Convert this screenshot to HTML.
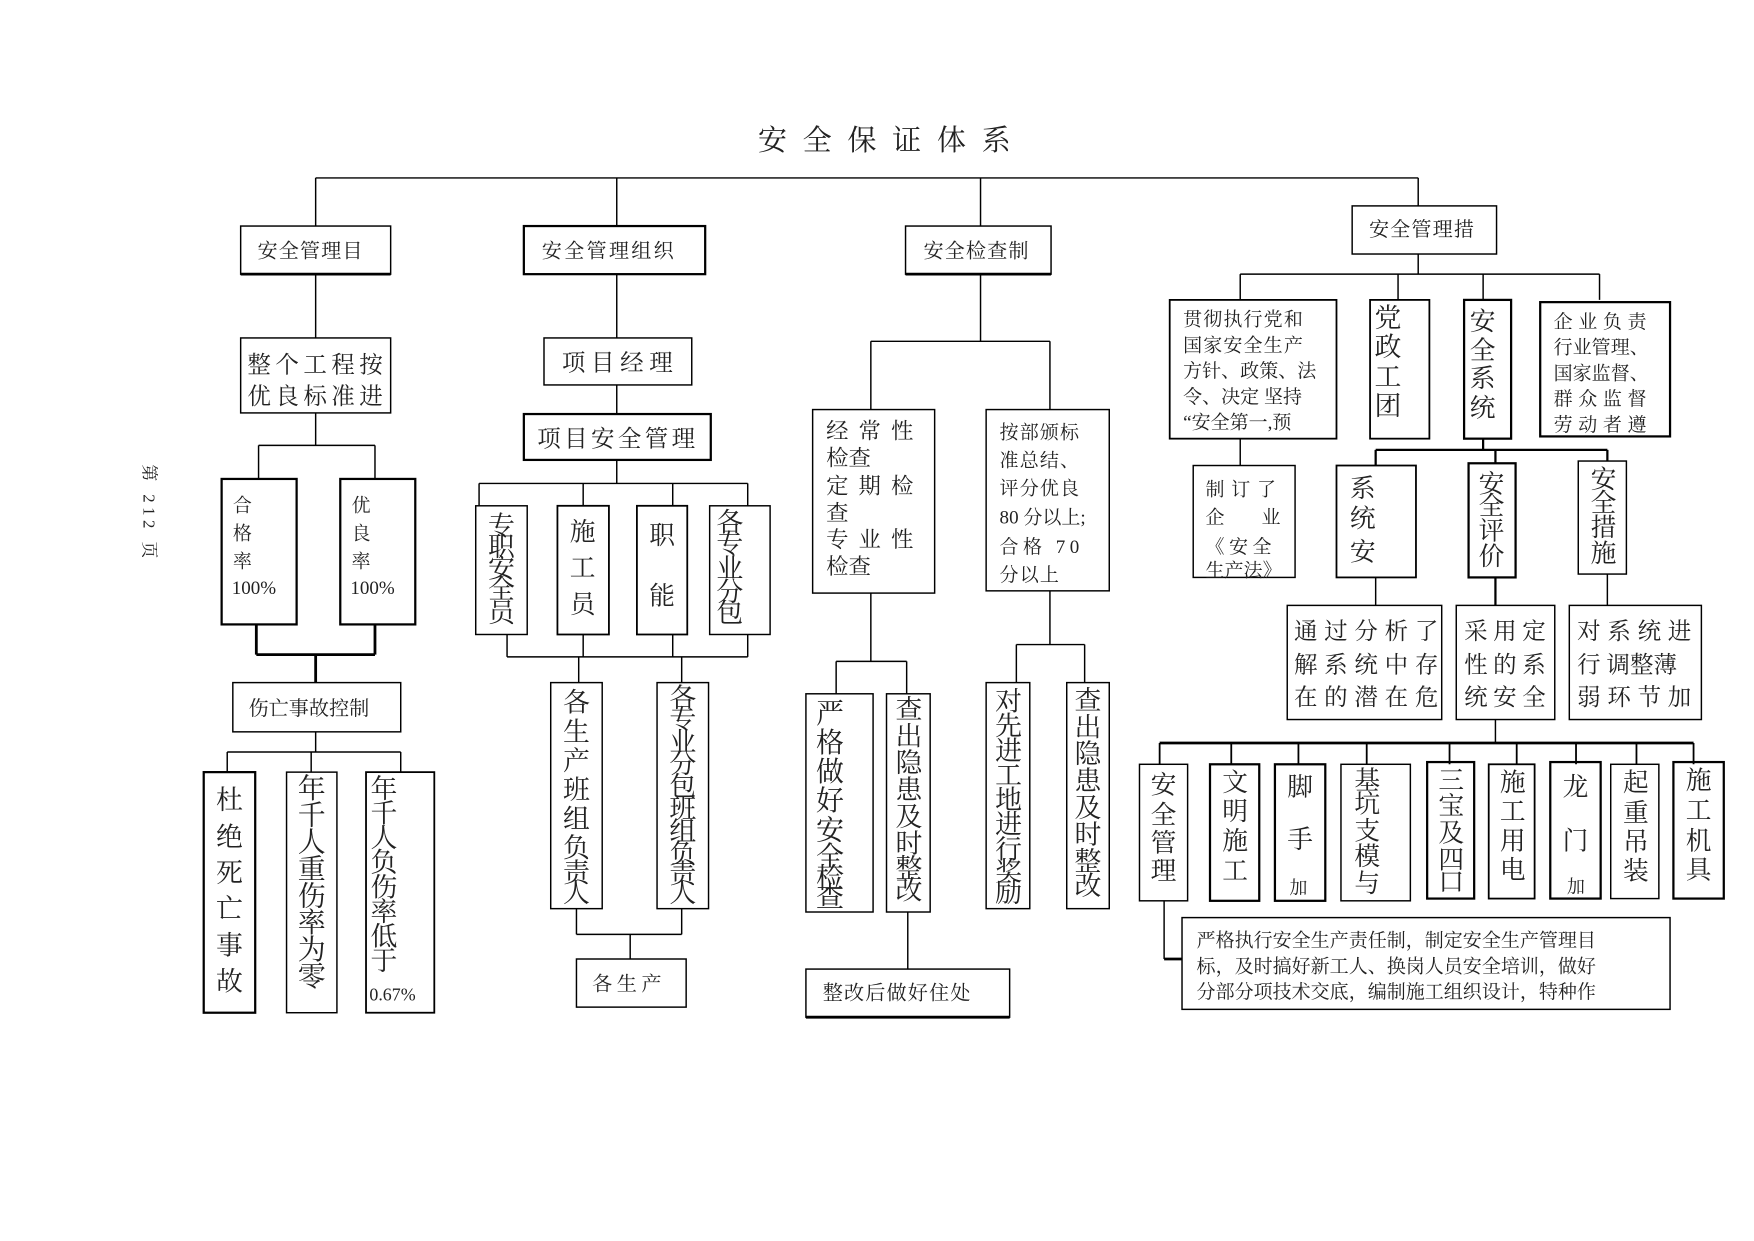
<!DOCTYPE html>
<html><head><meta charset="utf-8"><style>
html,body{margin:0;padding:0;background:#fff}
svg{display:block}
text{font-family:"Liberation Serif","Noto Serif CJK SC","Noto Sans CJK SC",serif;fill:#222}
</style></head><body>
<svg width="1754" height="1241" viewBox="0 0 1567 1109" preserveAspectRatio="none" xmlns="http://www.w3.org/2000/svg">
<g stroke="#000" fill="none" stroke-width="1.3">
<path d="M282 159H1267M282 159V202M551 159V202M876 159V202M1267 159V184"/>
<rect x="215" y="202" width="134" height="43"/><path d="M215 245H349" stroke-width="2.5"/>
<path d="M282 245V302"/>
<rect x="215" y="302" width="134" height="67"/>
<path d="M282 369V398M231 398H335M231 398V428M335 398V428"/>
<rect x="198" y="428" width="67" height="130" stroke-width="2"/>
<rect x="304" y="428" width="67" height="130" stroke-width="2"/>
<path d="M229 558V585M335 558V585M229 585H335M282 585V610" stroke-width="2.5"/>
<rect x="208" y="610" width="150" height="44"/>
<path d="M282 654V672M203 672H358M203 672V690M278 672V690M358 672V690"/>
<rect x="182" y="690" width="46" height="215" stroke-width="2"/>
<rect x="256" y="690" width="45" height="215"/>
<rect x="327" y="690" width="61" height="215" stroke-width="1.6"/>
<rect x="468" y="202" width="162" height="43" stroke-width="2"/>
<path d="M551 245V302"/>
<rect x="486" y="302" width="132" height="42"/>
<path d="M551 344V370"/>
<rect x="468" y="370" width="167" height="41" stroke-width="2"/>
<path d="M551 411V432M428 432H668M428 432V452M521 432V452M601 432V452M668 432V452"/>
<rect x="425" y="452" width="46" height="115"/>
<rect x="498" y="452" width="46" height="115" stroke-width="1.6"/>
<rect x="569" y="452" width="45" height="115" stroke-width="1.6"/>
<rect x="634" y="452" width="54" height="115"/>
<path d="M453 567V587M521 567V587M601 567V587M668 567V587M453 587H668M517 587V610M609 587V610"/>
<rect x="492" y="610" width="46" height="202"/>
<rect x="587" y="610" width="46" height="202"/>
<path d="M515 812V835M609 812V835M515 835H609M563 835V857"/>
<rect x="515" y="857" width="98" height="43"/>
<rect x="809" y="202" width="130" height="43"/><path d="M809 245H939" stroke-width="2.5"/>
<path d="M876 245V305M778 305H938M778 305V366M938 305V366"/>
<rect x="726" y="366" width="109" height="164"/>
<rect x="881" y="366" width="110" height="162"/>
<path d="M778 530V591M747 591H810M747 591V620M810 591V620"/>
<rect x="720" y="620" width="60" height="195"/>
<rect x="792" y="620" width="39" height="195"/>
<path d="M811 815V866"/>
<rect x="720" y="866" width="182" height="43"/><path d="M720 909H902" stroke-width="2.5"/>
<path d="M938 528V576M908 576H969M908 576V610M969 576V610"/>
<rect x="881" y="610" width="39" height="202"/>
<rect x="953" y="610" width="38" height="202"/>
<rect x="1208" y="184" width="129" height="43"/>
<path d="M1267 227V245M1108 245H1429M1108 245V268M1249 245V268M1325 245V268M1429 245V268"/>
<rect x="1045" y="268" width="149" height="124" stroke-width="1.6"/>
<rect x="1224" y="268" width="53" height="124" stroke-width="1.6"/>
<rect x="1308" y="268" width="42" height="124" stroke-width="2"/>
<rect x="1376" y="270" width="116" height="120" stroke-width="2"/>
<path d="M1108 392V416"/>
<rect x="1066" y="416" width="91" height="100"/>
<path d="M1325 392V402M1229 402H1436M1229 402V416M1336 402V414M1436 402V412" stroke-width="2"/>
<rect x="1194" y="416" width="71" height="100" stroke-width="1.6"/>
<rect x="1312" y="414" width="42" height="102" stroke-width="2"/>
<rect x="1410" y="412" width="43" height="101"/>
<path d="M1229 516V541M1436 513V541"/><path d="M1336 516V541" stroke-width="2"/>
<rect x="1150" y="541" width="138" height="102"/>
<rect x="1301" y="541" width="88" height="102"/>
<rect x="1402" y="541" width="118" height="102"/>
<path d="M1336 643V664"/>
<path d="M1036 664H1513" stroke-width="2.5"/>
<path d="M1036 664V683M1100 664V683M1160 664V683M1221 664V683M1295 664V683M1355 664V683M1408 664V683M1462 664V683M1513 664V683" stroke-width="1.6"/>
<rect x="1018" y="683" width="43" height="122"/>
<rect x="1081" y="683" width="44" height="122" stroke-width="2"/>
<rect x="1139" y="683" width="45" height="122" stroke-width="2"/>
<rect x="1198" y="683" width="62" height="122"/>
<rect x="1275" y="681" width="42" height="122" stroke-width="2"/>
<rect x="1330" y="683" width="41" height="120" stroke-width="1.6"/>
<rect x="1385" y="681" width="45" height="122" stroke-width="2"/>
<rect x="1439" y="683" width="43" height="120"/>
<rect x="1495" y="681" width="45" height="122" stroke-width="2"/>
<path d="M1040 805V857"/><path d="M1040 857H1056" stroke-width="2.5"/>
<rect x="1056" y="820" width="436" height="82"/>
</g>

<text x="797" y="134" font-size="26" text-anchor="middle" letter-spacing="14" fill="#000">安全保证体系</text>
<text transform="translate(128,415) rotate(90)" font-size="15" letter-spacing="4">第 212 页</text>

<g font-size="18" fill="#333">
<text x="230" y="230" letter-spacing="1">安全管理目</text>
<text x="484" y="230" letter-spacing="2">安全管理组织</text>
<text x="825" y="230" letter-spacing="1">安全检查制</text>
<text x="1223" y="211" letter-spacing="1">安全管理措</text>
<text x="222" y="639">伤亡事故控制</text>
<text x="529" y="885" letter-spacing="4">各生产</text>
<text x="735" y="893" letter-spacing="1">整改后做好住处</text>
</g>
<g font-size="21" fill="#222">
<text x="221" y="333" letter-spacing="4">整个工程按</text>
<text x="221" y="361" letter-spacing="4">优良标准进</text>
<text x="502" y="331" letter-spacing="5">项目经理</text>
<text x="480" y="399" letter-spacing="3">项目安全管理</text>
</g>
<g font-size="17" fill="#333">
<text x="208" y="457">合</text><text x="208" y="482">格</text><text x="208" y="507">率</text><text x="207" y="531">100%</text>
<text x="314" y="457">优</text><text x="314" y="482">良</text><text x="314" y="507">率</text><text x="313" y="531">100%</text>
</g>

<text font-size="24" fill="#000"><tspan x="193" y="723">杜</tspan><tspan x="193" y="756">绝</tspan><tspan x="193" y="788">死</tspan><tspan x="193" y="820">亡</tspan><tspan x="193" y="853">事</tspan><tspan x="193" y="885">故</tspan></text>
<text font-size="25" fill="#000"><tspan x="266" y="713">年</tspan><tspan x="266" y="737">千</tspan><tspan x="266" y="761">人</tspan><tspan x="266" y="785">重</tspan><tspan x="266" y="809">伤</tspan><tspan x="266" y="833">率</tspan><tspan x="266" y="857">为</tspan><tspan x="266" y="881">零</tspan></text>
<text font-size="24" fill="#000"><tspan x="331" y="713">年</tspan><tspan x="331" y="735">千</tspan><tspan x="331" y="757">人</tspan><tspan x="331" y="779">负</tspan><tspan x="331" y="801">伤</tspan><tspan x="331" y="823">率</tspan><tspan x="331" y="845">低</tspan><tspan x="331" y="867">于</tspan></text>
<text x="330" y="894" font-size="16" fill="#000">0.67%</text>

<text font-size="24" fill="#000"><tspan x="436" y="478">专</tspan><tspan x="436" y="497">职</tspan><tspan x="436" y="516">安</tspan><tspan x="436" y="535">全</tspan><tspan x="436" y="556">员</tspan></text>
<text font-size="23" fill="#000"><tspan x="509" y="483">施</tspan><tspan x="509" y="515">工</tspan><tspan x="509" y="548">员</tspan></text>
<text font-size="23" fill="#000"><tspan x="580" y="486">职</tspan><tspan x="580" y="540">能</tspan></text>
<text font-size="24" fill="#000"><tspan x="640" y="475">各</tspan><tspan x="640" y="494">专</tspan><tspan x="640" y="516">业</tspan><tspan x="640" y="537">分</tspan><tspan x="640" y="556">包</tspan></text>
<text font-size="24" fill="#000"><tspan x="503" y="636">各</tspan><tspan x="503" y="662">生</tspan><tspan x="503" y="688">产</tspan><tspan x="503" y="714">班</tspan><tspan x="503" y="740">组</tspan><tspan x="503" y="766">负</tspan><tspan x="503" y="788">责</tspan><tspan x="503" y="806">人</tspan></text>
<text font-size="24" fill="#000"><tspan x="598" y="632">各</tspan><tspan x="598" y="651">专</tspan><tspan x="598" y="671">业</tspan><tspan x="598" y="691">分</tspan><tspan x="598" y="711">包</tspan><tspan x="598" y="731">班</tspan><tspan x="598" y="751">组</tspan><tspan x="598" y="771">负</tspan><tspan x="598" y="789">责</tspan><tspan x="598" y="806">人</tspan></text>

<g font-size="20" fill="#222">
<text x="738" y="392" letter-spacing="9">经常性</text>
<text x="738" y="416">检查</text>
<text x="738" y="441" letter-spacing="9">定期检</text>
<text x="738" y="465">查</text>
<text x="738" y="489" letter-spacing="9">专业性</text>
<text x="738" y="513">检查</text>
</g>
<g font-size="17" fill="#222">
<text x="893" y="392" letter-spacing="1">按部颁标</text>
<text x="893" y="417" letter-spacing="1">准总结、</text>
<text x="893" y="442" letter-spacing="1">评分优良</text>
<text x="893" y="468">80 分以上;</text>
<text x="893" y="494" letter-spacing="4">合格 70</text>
<text x="893" y="519" letter-spacing="1">分以上</text>
</g>
<text font-size="25" fill="#000"><tspan x="729" y="646">严</tspan><tspan x="729" y="672">格</tspan><tspan x="729" y="698">做</tspan><tspan x="729" y="724">好</tspan><tspan x="729" y="750">安</tspan><tspan x="729" y="774">全</tspan><tspan x="729" y="793">检</tspan><tspan x="729" y="810">查</tspan></text>
<text font-size="24" fill="#000"><tspan x="800" y="642">查</tspan><tspan x="800" y="666">出</tspan><tspan x="800" y="690">隐</tspan><tspan x="800" y="714">患</tspan><tspan x="800" y="738">及</tspan><tspan x="800" y="762">时</tspan><tspan x="800" y="784">整</tspan><tspan x="800" y="804">改</tspan></text>
<text font-size="24" fill="#000"><tspan x="889" y="635">对</tspan><tspan x="889" y="657">先</tspan><tspan x="889" y="679">进</tspan><tspan x="889" y="701">工</tspan><tspan x="889" y="723">地</tspan><tspan x="889" y="745">进</tspan><tspan x="889" y="767">行</tspan><tspan x="889" y="787">奖</tspan><tspan x="889" y="806">励</tspan></text>
<text font-size="24" fill="#000"><tspan x="960" y="634">查</tspan><tspan x="960" y="658">出</tspan><tspan x="960" y="682">隐</tspan><tspan x="960" y="706">患</tspan><tspan x="960" y="730">及</tspan><tspan x="960" y="754">时</tspan><tspan x="960" y="778">整</tspan><tspan x="960" y="800">改</tspan></text>

<g font-size="17" fill="#333">
<text x="1057" y="291" letter-spacing="1">贯彻执行党和</text>
<text x="1057" y="314" letter-spacing="1">国家安全生产</text>
<text x="1057" y="337">方针、政策、法</text>
<text x="1057" y="360">令、决定 坚持</text>
<text x="1057" y="383">“安全第一,预</text>
<text x="1388" y="293" letter-spacing="5">企业负责</text>
<text x="1388" y="316">行业管理、</text>
<text x="1388" y="339">国家监督、</text>
<text x="1388" y="362" letter-spacing="5">群众监督</text>
<text x="1388" y="385" letter-spacing="5">劳动者遵</text>
<text x="1077" y="443" letter-spacing="6">制订了</text>
<text x="1077" y="468" letter-spacing="33">企业</text>
<text x="1077" y="494" letter-spacing="4">《安全</text>
<text x="1077" y="515">生产法》</text>
</g>
<text font-size="24" fill="#000"><tspan x="1228" y="292">党</tspan><tspan x="1228" y="318">政</tspan><tspan x="1228" y="345">工</tspan><tspan x="1228" y="371">团</tspan></text>
<text font-size="23" fill="#000"><tspan x="1313" y="295">安</tspan><tspan x="1313" y="321">全</tspan><tspan x="1313" y="346">系</tspan><tspan x="1313" y="372">统</tspan></text>
<text font-size="23" fill="#000"><tspan x="1206" y="444">系</tspan><tspan x="1206" y="471">统</tspan><tspan x="1206" y="501">安</tspan></text>
<text font-size="23" fill="#000"><tspan x="1321" y="440">安</tspan><tspan x="1321" y="460">全</tspan><tspan x="1321" y="482">评</tspan><tspan x="1321" y="505">价</tspan></text>
<text font-size="23" fill="#000"><tspan x="1421" y="436">安</tspan><tspan x="1421" y="457">全</tspan><tspan x="1421" y="479">措</tspan><tspan x="1421" y="502">施</tspan></text>
<g font-size="21" fill="#333">
<text x="1156" y="571" letter-spacing="6">通过分析了</text>
<text x="1156" y="601" letter-spacing="6">解系统中存</text>
<text x="1156" y="630" letter-spacing="6">在的潜在危</text>
<text x="1308" y="571" letter-spacing="5">采用定</text>
<text x="1308" y="601" letter-spacing="5">性的系</text>
<text x="1308" y="630" letter-spacing="5">统安全</text>
<text x="1409" y="571" letter-spacing="6">对系统进</text>
<text x="1409" y="601">行 调整薄</text>
<text x="1409" y="630" letter-spacing="6">弱环节加</text>
</g>
<g font-size="23" fill="#000">
<text><tspan x="1028" y="709">安</tspan><tspan x="1028" y="736">全</tspan><tspan x="1028" y="761">管</tspan><tspan x="1028" y="786">理</tspan></text>
<text><tspan x="1092" y="707">文</tspan><tspan x="1092" y="733">明</tspan><tspan x="1092" y="759">施</tspan><tspan x="1092" y="786">工</tspan></text>
<text><tspan x="1150" y="711">脚</tspan><tspan x="1150" y="758">手</tspan><tspan x="1152" y="799" font-size="16">加</tspan></text>
<text><tspan x="1210" y="705">基</tspan><tspan x="1210" y="726">坑</tspan><tspan x="1210" y="750">支</tspan><tspan x="1210" y="773">模</tspan><tspan x="1210" y="797">与</tspan></text>
<text><tspan x="1285" y="705">三</tspan><tspan x="1285" y="728">宝</tspan><tspan x="1285" y="752">及</tspan><tspan x="1285" y="776">四</tspan><tspan x="1285" y="796">口</tspan></text>
<text><tspan x="1340" y="707">施</tspan><tspan x="1340" y="733">工</tspan><tspan x="1340" y="759">用</tspan><tspan x="1340" y="785">电</tspan></text>
<text><tspan x="1396" y="711">龙</tspan><tspan x="1396" y="759">门</tspan><tspan x="1400" y="798" font-size="16">加</tspan></text>
<text><tspan x="1450" y="707">起</tspan><tspan x="1450" y="734">重</tspan><tspan x="1450" y="760">吊</tspan><tspan x="1450" y="786">装</tspan></text>
<text><tspan x="1506" y="705">施</tspan><tspan x="1506" y="732">工</tspan><tspan x="1506" y="759">机</tspan><tspan x="1506" y="785">具</tspan></text>
</g>
<g font-size="17" fill="#333">
<text x="1069" y="846">严格执行安全生产责任制，制定安全生产管理目</text>
<text x="1069" y="869">标，及时搞好新工人、换岗人员安全培训，做好</text>
<text x="1069" y="892">分部分项技术交底，编制施工组织设计，特种作</text>
</g>
</svg>
</body></html>
